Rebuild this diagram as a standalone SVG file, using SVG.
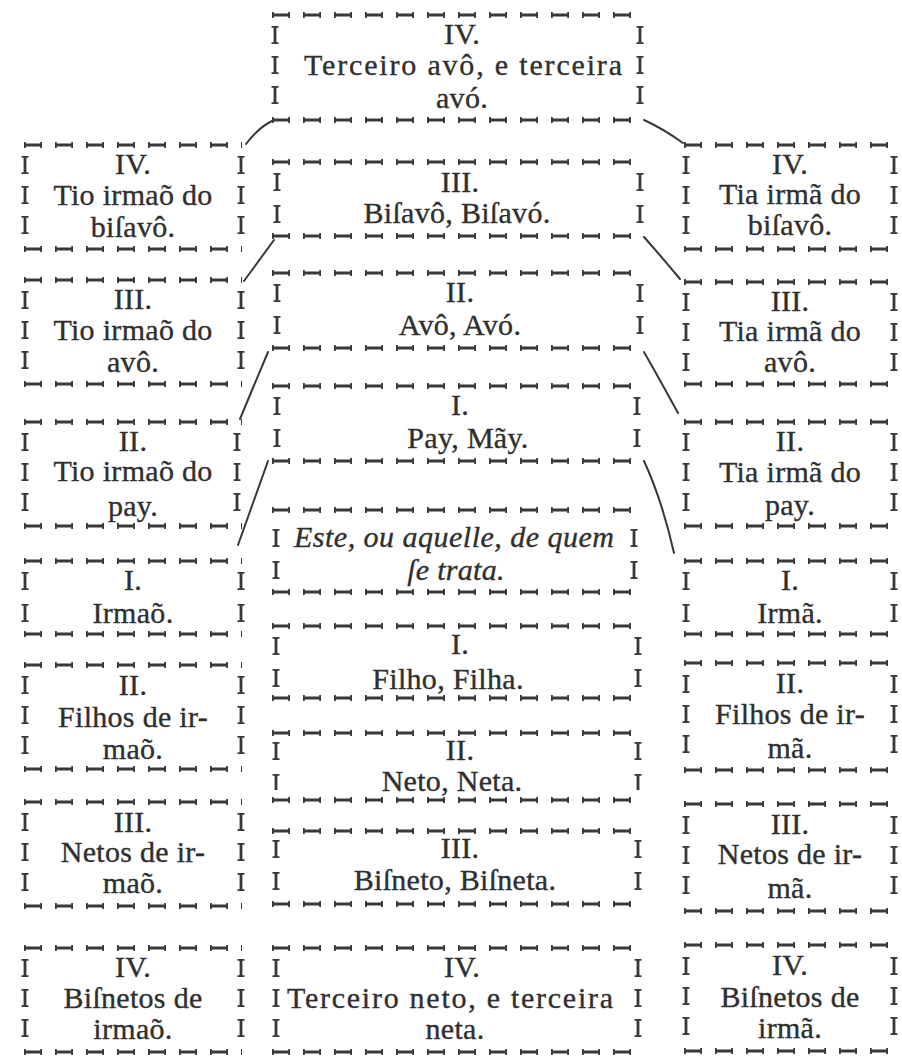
<svg xmlns="http://www.w3.org/2000/svg" width="902" height="1058" viewBox="0 0 902 1058">
<style>
.b{fill:none;stroke:#383838;stroke-width:2.8;stroke-dasharray:18 13}
.bt{fill:none;stroke:#383838;stroke-width:6;stroke-dasharray:1.8 14.4 1.8 13}
.s3{fill:none;stroke:#383838;stroke-width:2.8;stroke-dasharray:18 12}
.s3t{fill:none;stroke:#383838;stroke-width:7;stroke-dasharray:1.8 14.4 1.8 12}
.s2{fill:none;stroke:#383838;stroke-width:2.8;stroke-dasharray:18 14}
.s2t{fill:none;stroke:#383838;stroke-width:7;stroke-dasharray:1.8 14.4 1.8 14}
text{font-family:"Liberation Serif","Times New Roman",serif;font-size:30px;fill:#2f2f2f;stroke:#2f2f2f;stroke-width:.35;text-anchor:middle;letter-spacing:.3px}
.it{font-style:italic}
.j{letter-spacing:0}
.c{fill:none;stroke:#383838;stroke-width:2;stroke-linecap:round}
</style>
<rect width="902" height="1058" fill="#fff"/>

<g id="connectors">
<path class="c" d="M272 121Q258 128 246 144"/>
<path class="c" d="M644 120Q662 128 683 143"/>
<path class="c" d="M274 240Q258 262 244 281"/>
<path class="c" d="M644 237Q660 255 680 279"/>
<path class="c" d="M268 352L240 419"/>
<path class="c" d="M644 352Q660 380 678 413"/>
<path class="c" d="M268 461L238 545"/>
<path class="c" d="M644 461Q662 500 674 553"/>
</g>

<g id="n-top">
<path class="b" d="M272 15H643M272 120H643"/><path class="bt" d="M272 15H643M272 120H643"/>
<path class="s3" d="M275 26V105M640 26V105"/><path class="s3t" d="M275 26V105M640 26V105"/>
<text x="462" y="44">IV.</text>
<text class="j" x="463" y="75" textLength="318" lengthAdjust="spacing">Terceiro avô, e terceira</text>
<text x="462" y="108">avó.</text>
</g>

<g id="n-l4">
<path class="b" d="M24 145H242M24 249H242"/><path class="bt" d="M24 145H242M24 249H242"/>
<path class="s3" d="M25 156V235M241 156V235"/><path class="s3t" d="M25 156V235M241 156V235"/>
<text x="133" y="174">IV.</text><text x="133" y="205">Tio irmaõ do</text><text x="133" y="237">biſavô.</text>
</g>
<g id="n-l3">
<path class="b" d="M24 280H242M24 384H242"/><path class="bt" d="M24 280H242M24 384H242"/>
<path class="s3" d="M25 291V370M241 291V370"/><path class="s3t" d="M25 291V370M241 291V370"/>
<text x="133" y="309">III.</text><text x="133" y="340">Tio irmaõ do</text><text x="133" y="372">avô.</text>
</g>
<g id="n-l2">
<path class="b" d="M24 422H242M24 526H242"/><path class="bt" d="M24 422H242M24 526H242"/>
<path class="s3" d="M25 433V512M237 433V512"/><path class="s3t" d="M25 433V512M237 433V512"/>
<text x="133" y="451">II.</text><text x="133" y="481">Tio irmaõ do</text><text x="133" y="516">pay.</text>
</g>
<g id="n-l1">
<path class="b" d="M24 561H242M24 634H242"/><path class="bt" d="M24 561H242M24 634H242"/>
<path class="s2" d="M25 572V623M241 572V623"/><path class="s2t" d="M25 572V623M241 572V623"/>
<text x="133" y="590">I.</text><text x="133" y="623">Irmaõ.</text>
</g>
<g id="n-l2b">
<path class="b" d="M24 665H242M24 769H242"/><path class="bt" d="M24 665H242M24 769H242"/>
<path class="s3" d="M25 676V755M241 676V755"/><path class="s3t" d="M25 676V755M241 676V755"/>
<text x="133" y="695">II.</text><text x="133" y="727">Filhos de ir-</text><text x="133" y="759">maõ.</text>
</g>
<g id="n-l3b">
<path class="b" d="M24 802H242M24 906H242"/><path class="bt" d="M24 802H242M24 906H242"/>
<path class="s3" d="M25 813V892M241 813V892"/><path class="s3t" d="M25 813V892M241 813V892"/>
<text x="133" y="832">III.</text><text x="133" y="862">Netos de ir-</text><text x="133" y="893">maõ.</text>
</g>
<g id="n-l4b">
<path class="b" d="M24 948H242M24 1052H242"/><path class="bt" d="M24 948H242M24 1052H242"/>
<path class="s3" d="M25 959V1038M241 959V1038"/><path class="s3t" d="M25 959V1038M241 959V1038"/>
<text x="133" y="977">IV.</text><text x="133" y="1008">Biſnetos de</text><text x="133" y="1039">irmaõ.</text>
</g>

<g id="n-r4">
<path class="b" d="M684 145H896M684 249H896"/><path class="bt" d="M684 145H896M684 249H896"/>
<path class="s3" d="M686 156V235M894 156V235"/><path class="s3t" d="M686 156V235M894 156V235"/>
<text x="790" y="174">IV.</text><text x="790" y="204">Tia irmã do</text><text x="790" y="235">biſavô.</text>
</g>
<g id="n-r3">
<path class="b" d="M684 282H896M684 384H896"/><path class="bt" d="M684 282H896M684 384H896"/>
<path class="s3" d="M686 293V372M894 293V372"/><path class="s3t" d="M686 293V372M894 293V372"/>
<text x="790" y="311">III.</text><text x="790" y="341">Tia irmã do</text><text x="790" y="372">avô.</text>
</g>
<g id="n-r2">
<path class="b" d="M684 422H896M684 526H896"/><path class="bt" d="M684 422H896M684 526H896"/>
<path class="s3" d="M686 433V512M894 433V512"/><path class="s3t" d="M686 433V512M894 433V512"/>
<text x="790" y="451">II.</text><text x="790" y="482">Tia irmã do</text><text x="790" y="515">pay.</text>
</g>
<g id="n-r1">
<path class="b" d="M684 561H896M684 634H896"/><path class="bt" d="M684 561H896M684 634H896"/>
<path class="s2" d="M686 572V623M894 572V623"/><path class="s2t" d="M686 572V623M894 572V623"/>
<text x="790" y="590">I.</text><text x="790" y="623">Irmã.</text>
</g>
<g id="n-r2b">
<path class="b" d="M684 663H896M684 770H896"/><path class="bt" d="M684 663H896M684 770H896"/>
<path class="s3" d="M686 675V754M894 675V754"/><path class="s3t" d="M686 675V754M894 675V754"/>
<text x="790" y="693">II.</text><text x="790" y="724">Filhos de ir-</text><text x="790" y="758">mã.</text>
</g>
<g id="n-r3b">
<path class="b" d="M684 804H896M684 911H896"/><path class="bt" d="M684 804H896M684 911H896"/>
<path class="s3" d="M686 816V895M894 816V895"/><path class="s3t" d="M686 816V895M894 816V895"/>
<text x="790" y="834">III.</text><text x="790" y="864">Netos de ir-</text><text x="790" y="898">mã.</text>
</g>
<g id="n-r4b">
<path class="b" d="M684 945H896M684 1051H896"/><path class="bt" d="M684 945H896M684 1051H896"/>
<path class="s3" d="M686 957V1036M894 957V1036"/><path class="s3t" d="M686 957V1036M894 957V1036"/>
<text x="790" y="975">IV.</text><text x="790" y="1007">Biſnetos de</text><text x="790" y="1038">irmã.</text>
</g>

<g id="n-c3">
<path class="b" d="M272 162H643M272 236H643"/><path class="bt" d="M272 162H643M272 236H643"/>
<path class="s2" d="M277 173V224M640 173V224"/><path class="s2t" d="M277 173V224M640 173V224"/>
<text x="460" y="192">III.</text><text x="457" y="223">Biſavô, Biſavó.</text>
</g>
<g id="n-c2">
<path class="b" d="M272 273H643M272 348H643"/><path class="bt" d="M272 273H643M272 348H643"/>
<path class="s2" d="M277 284V335M640 284V335"/><path class="s2t" d="M277 284V335M640 284V335"/>
<text x="460" y="302">II.</text><text x="460" y="335">Avô, Avó.</text>
</g>
<g id="n-c1">
<path class="b" d="M272 386H643M272 461H643"/><path class="bt" d="M272 386H643M272 461H643"/>
<path class="s2" d="M277 397V448M637 397V448"/><path class="s2t" d="M277 397V448M637 397V448"/>
<text x="460" y="415">I.</text><text x="468" y="448">Pay, Mãy.</text>
</g>
<g id="n-ce">
<path class="b" d="M272 510H640M272 592H640"/><path class="bt" d="M272 510H640M272 592H640"/>
<path class="s2" d="M276 529V580M634 529V580"/><path class="s2t" d="M276 529V580M634 529V580"/>
<text class="it j" x="454" y="547" textLength="320" lengthAdjust="spacing">Este, ou aquelle, de quem</text>
<text class="it" x="456" y="580">ſe trata.</text>
</g>
<g id="n-cf">
<path class="b" d="M272 626H643M272 698H643"/><path class="bt" d="M272 626H643M272 698H643"/>
<path class="s2" d="M276 637V688M638 637V688"/><path class="s2t" d="M276 637V688M638 637V688"/>
<text x="460" y="654">I.</text><text x="448" y="689">Filho, Filha.</text>
</g>
<g id="n-cn">
<path class="b" d="M272 733H643M272 800H643"/><path class="bt" d="M272 733H643M272 800H643"/>
<path class="s2" d="M276 742V790M638 742V790"/><path class="s2t" d="M276 742V790M638 742V790"/>
<text x="460" y="760">II.</text><text x="452" y="791">Neto, Neta.</text>
</g>
<g id="n-cb">
<path class="b" d="M272 831H643M272 904H643"/><path class="bt" d="M272 831H643M272 904H643"/>
<path class="s2" d="M276 840V891M638 840V891"/><path class="s2t" d="M276 840V891M638 840V891"/>
<text x="460" y="858">III.</text><text x="455" y="890">Biſneto, Biſneta.</text>
</g>
<g id="n-c4b">
<path class="b" d="M272 948H643M272 1052H643"/><path class="bt" d="M272 948H643M272 1052H643"/>
<path class="s3" d="M276 959V1038M638 959V1038"/><path class="s3t" d="M276 959V1038M638 959V1038"/>
<text x="462" y="977">IV.</text>
<text class="j" x="450" y="1008" textLength="326" lengthAdjust="spacing">Terceiro neto, e terceira</text>
<text x="455" y="1039">neta.</text>
</g>
</svg>
